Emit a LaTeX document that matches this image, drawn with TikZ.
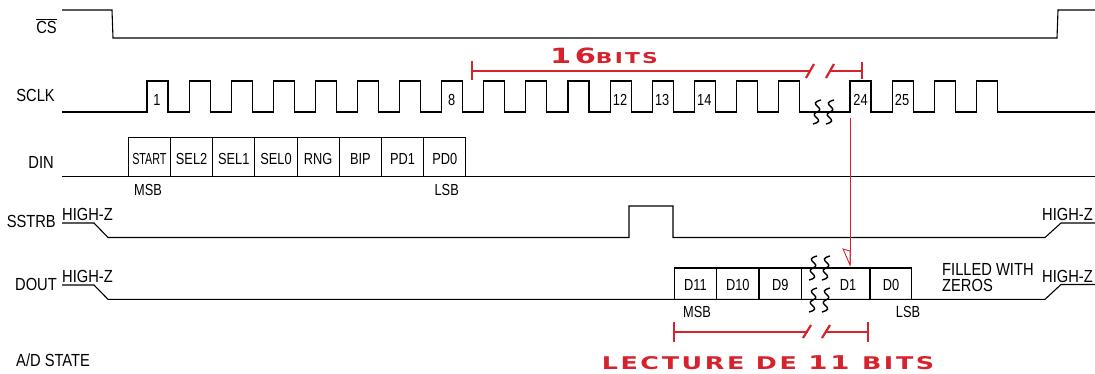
\documentclass[tikz,border=0pt]{standalone}
\usepackage{fontspec}
\setmainfont{Liberation Sans}
\newfontfamily\lab[FakeStretch=0.84]{Liberation Sans}
\newfontfamily\labn[FakeStretch=0.8]{Liberation Sans}
\newfontfamily\redf[FakeStretch=1.45,LetterSpace=15]{DejaVu Sans Bold}
\definecolor{mred}{RGB}{214,34,44}
\begin{document}
\begin{tikzpicture}[x=1pt,y=-1pt,
  sig/.style={line width=1.1pt,black,line join=miter},
  lbl/.style={font=\lab\fontsize{17.5}{19}\selectfont,inner sep=0pt},
  blbl/.style={font=\labn\fontsize{16}{18}\selectfont,inner sep=0pt},
  rl/.style={mred,line width=2.2pt},
  rtext/.style={mred,inner sep=0pt},
  brk/.pic={\draw[line width=1.4pt,black] (4,-12) .. controls (-11,-8) and (10,-4) .. (0,0) .. controls (-10,4) and (11,8) .. (-4,12);}
]
\useasboundingbox[fill=white] (0,0) rectangle (1095,373);

% ---------- left labels
\node[lbl,anchor=east] (lcs) at (57,26) {$\overline{\hbox{\lab\fontsize{17.5}{19}\selectfont CS}}$};
\node[lbl,anchor=east] (lsclk) at (55,95) {SCLK};
\node[lbl,anchor=east] (ldin) at (54,162) {DIN};
\node[lbl,anchor=east] (lsstrb) at (56,221) {SSTRB};
\node[lbl,anchor=east] (ldout) at (57,284.5) {DOUT};
\node[lbl,anchor=west] (lad) at (16,360) {A/D STATE};

% ---------- CS
\draw[sig] (62,10) -- (112,10) -- (113,38) -- (1057,38) -- (1058,10) -- (1095,10);

% ---------- SCLK
\draw[sig] (62,112) foreach \x in {147,189.1,231.2,273.3,315.4,357.5,399.6,441.7,483.8,525.9,568,610.1,652.2,694.3,736.4,778.5,850,892.1,934.2,976.3} { -- (\x,112) -- (\x,81) -- ({\x+21},81) -- ({\x+21},112) } -- (1095,112);
\foreach \n/\x in {1/157,8/451.7,12/620.1,13/662.2,14/704.3,24/860.5,25/902.1}
  \node[blbl] (n\n) at (\x,100) {\n};
\pic at (817,112) {brk};
\pic at (830,112) {brk};

% ---------- DIN
\draw[sig] (62,176.7) -- (1095,176.7);
\draw[sig] (128.3,176.7) -- (128.3,137.3) -- (465.9,137.3) -- (465.9,176.7);
\foreach \i in {1,...,7} \draw[sig] ({128.3+42.2*\i},137.3) -- ({128.3+42.2*\i},176.7);
\foreach \t [count=\i] in {{\scalebox{0.84}[1]{START}},SEL2,SEL1,SEL0,RNG,BIP,PD1,PD0}
  \node[blbl] (din\i) at ({128.3+42.2*(\i-0.5)},159) {\t};
\node[blbl] (dmsb) at (148,190) {MSB};
\node[blbl] (dlsb) at (446.7,190) {LSB};

% ---------- SSTRB
\node[lbl,anchor=south west] (hz1) at (62,221) {HIGH-Z};
\node[lbl,anchor=south east] (hz2) at (1093,221) {HIGH-Z};
\draw[sig] (62,223) -- (94,223) -- (108,237.5) -- (629,237.5) -- (629,206) -- (673,206) -- (673,237.5) -- (1045,237.5) -- (1061,223) -- (1095,223);

% ---------- DOUT
\node[lbl,anchor=south west] (hz3) at (62,283) {HIGH-Z};
\node[lbl,anchor=south east] (hz4) at (1093,282.5) {HIGH-Z};
\draw[sig] (62,285) -- (94,285) -- (108,299.3) -- (1045,299.3) -- (1061,284.5) -- (1095,284.5);
\draw[sig] (674.3,299.3) -- (674.3,268) -- (911.7,268) -- (911.7,299.3);
\foreach \x in {716.7,759,801.7,870} \draw[sig] (\x,268) -- (\x,299.3);
\node[blbl] (d11) at (695.5,284.5) {D11};
\node[blbl] (d10) at (737.8,284.5) {D10};
\node[blbl] (d9) at (780.3,284.5) {D9};
\node[blbl] (d1) at (848,284.5) {D1};
\node[blbl] (d0) at (891,284.5) {D0};
\node[blbl] (omsb) at (697,312) {MSB};
\node[blbl] (olsb) at (908,312) {LSB};
\node[lbl,anchor=north west,align=left,font=\lab\fontsize{17.5}{16.5}\selectfont] (fz) at (942,263) {FILLED WITH\\ZEROS};
\pic at (813,268) {brk};
\pic at (826,268) {brk};
\pic at (813,300) {brk};
\pic at (826,300) {brk};

% ---------- red annotations
\coordinate (p24) at (850,118);
\coordinate (d1top) at (850,265);
\draw[mred,line width=1pt] (p24) -- (d1top);
\draw[mred,line width=0.9pt,fill=white] (843,249) -- (850,251) -- (d1top) -- cycle;

% 16 bits bracket
\coordinate (a1) at (472,71);
\coordinate (a2) at (810,71);
\coordinate (a3) at (830,71);
\coordinate (a4) at (861.7,71);
\draw[rl] (a1) -- (a2);
\draw[rl] (a3) -- (a4);
\draw[rl] (472,61) -- (472,80);
\draw[rl] (861.7,62) -- (861.7,79);
\draw[rl] (806,78) -- (814,64);
\draw[rl] (826,78) -- (834,64);
\node[rtext,anchor=base] (t16) at (604,63) {\redf\fontsize{21}{22}\selectfont 1\,6\fontsize{15}{16}\selectfont BITS};

% lecture bracket
\coordinate (b1) at (674.3,331.7);
\coordinate (b2) at (808,331.7);
\coordinate (b3) at (826,331.7);
\coordinate (b4) at (868.3,331.7);
\draw[rl] (b1) -- (b2);
\draw[rl] (b3) -- (b4);
\draw[rl] (674.3,322) -- (674.3,342);
\draw[rl] (868.3,322) -- (868.3,342);
\draw[rl] (803,338) -- (811,325);
\draw[rl] (822,338) -- (830,325);
\node[rtext] (tlec) at (768,363) {\redf\fontsize{17.5}{18}\selectfont LECTURE DE \fontsize{19}{18}\selectfont 11 \fontsize{17.5}{18}\selectfont BITS};
\end{tikzpicture}
\end{document}
